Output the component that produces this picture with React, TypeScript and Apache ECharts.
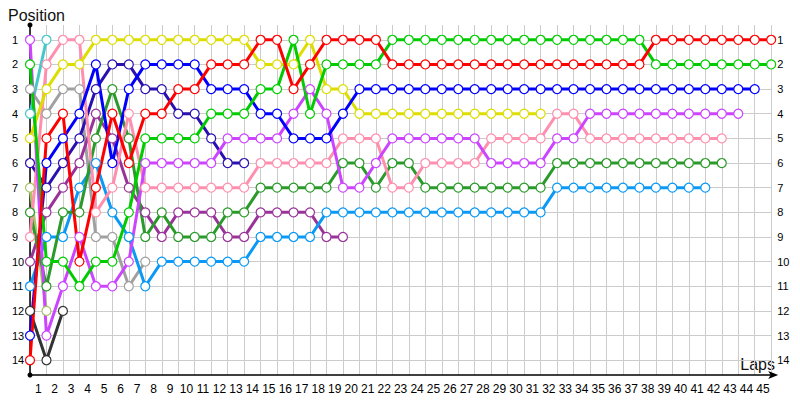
import React, { useEffect, useRef } from "react";
import * as echarts from "echarts";

// Lap labels on the x axis (lap 0 = starting grid column, unlabeled)
const lapLabels = [
  "1", "2", "3", "4", "5", "6", "7", "8", "9", "10",
  "11", "12", "13", "14", "15", "16", "17", "18", "19", "20",
  "21", "22", "23", "24", "25", "26", "27", "28", "29", "30",
  "31", "32", "33", "34", "35", "36", "37", "38", "39", "40",
  "41", "42", "43", "44", "45",
];
const positionTicks = [1, 2, 3, 4, 5, 6, 7, 8, 9, 10, 11, 12, 13, 14];

// Positions per lap, starting at lap 0 (grid)
const redPos = [14, 5, 4, 10, 7, 4, 6, 4, 4, 3, 3, 2, 2, 2, 1, 1, 3, 2, 1, 1, 1, 1,
  2, 2, 2, 2, 2, 2, 2, 2, 2, 2, 2, 2, 2, 2, 2, 2,
  1, 1, 1, 1, 1, 1, 1, 1];
const greenPos = [2, 10, 10, 11, 10, 10, 8, 5, 5, 5, 5, 4, 4, 4, 3, 3, 1, 4, 2, 2, 2, 2,
  1, 1, 1, 1, 1, 1, 1, 1, 1, 1, 1, 1, 1, 1, 1, 1,
  2, 2, 2, 2, 2, 2, 2, 2];
const bluePos = [13, 6, 5, 4, 2, 6, 3, 2, 2, 2, 2, 3, 3, 3, 4, 4, 5, 5, 5, 4,
  3, 3, 3, 3, 3, 3, 3, 3, 3, 3, 3, 3, 3, 3, 3, 3, 3, 3, 3, 3, 3, 3, 3, 3, 3];
const yellowPos = [5, 3, 2, 2, 1, 1, 1, 1, 1, 1, 1, 1, 1, 1, 2, 2, 2, 1, 3, 3,
  4, 4, 4, 4, 4, 4, 4, 4, 4, 4, 4, 4];
const violetPos = [1, 13, 11, 9, 11, 11, 10, 6, 6, 6, 6, 6, 5, 5, 5, 5, 4, 3, 4, 7, 7, 6,
  5, 5, 5, 5, 5, 5, 6, 6, 6, 6, 5, 5, 4, 4, 4, 4, 4, 4, 4, 4, 4, 4];
const pinkPos = [9, 2, 1, 1, 8, 7, 4, 7, 7, 7, 7, 7, 7, 7, 6, 6, 6, 6, 6, 5, 5, 5, 7, 7,
  6, 6, 6, 6, 5, 5, 5, 5, 4, 4, 5, 5, 5, 5, 5, 5, 5, 5, 5];
const darkGreenPos = [8, 11, 8, 8, 5, 3, 5, 9, 8, 9, 9, 9, 8, 8, 7, 7, 7, 7, 7, 6, 6, 7, 6, 6,
  7, 7, 7, 7, 7, 7, 7, 7, 6, 6, 6, 6, 6, 6, 6, 6, 6, 6, 6];
const lightBluePos = [11, 9, 9, 7, 6, 8, 9, 11, 10, 10, 10, 10, 10, 10, 9, 9, 9, 9,
  8, 8, 8, 8, 8, 8, 8, 8, 8, 8, 8, 8, 8, 8, 7, 7, 7, 7, 7, 7, 7, 7, 7, 7];
const purplePos = [10, 8, 7, 6, 4, 5, 7, 8, 9, 8, 8, 8, 9, 9, 8, 8, 8, 8, 9, 9];
const navyPos = [6, 7, 6, 5, 3, 2, 2, 3, 3, 4, 4, 5, 6, 6];
const grayPos = [3, 4, 3, 3, 9, 9, 11, 10];
const cyanPos = [4, 1];
const olivePos = [7, 12];
const blackPos = [12, 14, 12];

const drivers = [
  { name: "Black", color: "#333333", pos: blackPos },
  { name: "Olive", color: "#a9c467", pos: olivePos },
  { name: "Cyan", color: "#44c8c8", pos: cyanPos },
  { name: "Gray", color: "#a0a0a0", pos: grayPos },
  { name: "Navy", color: "#2a10b0", pos: navyPos },
  { name: "Purple", color: "#993399", pos: purplePos },
  { name: "LightBlue", color: "#0a99f5", pos: lightBluePos },
  { name: "DarkGreen", color: "#2a9a2a", pos: darkGreenPos },
  { name: "Pink", color: "#ff8fae", pos: pinkPos },
  { name: "Violet", color: "#cc44ff", pos: violetPos },
  { name: "Yellow", color: "#dddd00", pos: yellowPos },
  { name: "Blue", color: "#0000ff", pos: bluePos },
  { name: "Green", color: "#00cc00", pos: greenPos },
  { name: "Red", color: "#ff0000", pos: redPos },
];

const font = "'Liberation Sans', Arial, sans-serif";

export default function App() {
  const ref = useRef<HTMLDivElement>(null);
  useEffect(() => {
    const chart = echarts.init(ref.current as HTMLDivElement, null, { renderer: "svg" });
    const option: any = {
      animation: false,
      backgroundColor: "#ffffff",
      title: {
        text: "Position",
        left: 3,
        top: 2,
        textStyle: { fontSize: 16, fontWeight: "normal", color: "#111", fontFamily: font },
      },
      graphic: [
        {
          type: "text",
          right: 25,
          bottom: 28,
          style: { text: "Laps", fontSize: 16, fill: "#111", fontFamily: font },
        },
      ],
      grid: { left: 30, right: 28.8, top: 25, bottom: 25, containLabel: false },
      xAxis: [
        {
          type: "category",
          data: lapLabels,
          boundaryGap: true,
          position: "bottom",
          axisLine: {
            show: true,
            lineStyle: { color: "#000", width: 1.5 },
            symbol: ["none", "arrow"],
            symbolSize: [6, 10],
            symbolOffset: [0, 7],
          },
          axisTick: { show: false },
          splitLine: { show: false },
          axisLabel: { interval: 0, margin: 8, fontSize: 12, color: "#000", fontFamily: font },
        },
        {
          type: "value",
          position: "top",
          min: 0,
          max: 45,
          interval: 1,
          axisLine: { show: false },
          axisTick: { show: false },
          axisLabel: { show: false },
          splitLine: { show: true, lineStyle: { color: "#cccccc", width: 1 } },
        },
      ],
      yAxis: [
        {
          type: "value",
          inverse: true,
          min: 0.4,
          max: 14.6,
          position: "left",
          axisLine: {
            show: true,
            lineStyle: { color: "#000", width: 1.5 },
            symbol: ["circle", "circle"],
            symbolSize: [5, 5],
          },
          axisTick: { show: false, customValues: positionTicks },
          axisLabel: {
            customValues: positionTicks,
            align: "left",
            margin: 18,
            fontSize: 11,
            color: "#000",
            fontFamily: font,
          },
          splitLine: { show: true, lineStyle: { color: "#cccccc", width: 1 } },
        },
        {
          type: "value",
          inverse: true,
          min: 0.4,
          max: 14.6,
          position: "right",
          axisLine: { show: false },
          axisTick: { show: false, customValues: positionTicks },
          axisLabel: {
            customValues: positionTicks,
            align: "left",
            margin: 6,
            fontSize: 11,
            color: "#000",
            fontFamily: font,
          },
          splitLine: { show: false },
        },
      ],
      series: drivers.map((d) => ({
        type: "line",
        name: d.name,
        xAxisIndex: 1,
        yAxisIndex: 0,
        data: d.pos.map((p, i) => [i, p]),
        symbol: "circle",
        symbolSize: 9,
        showAllSymbol: true,
        lineStyle: { color: d.color, width: 3 },
        itemStyle: { color: "#ffffff", borderColor: d.color, borderWidth: 1.2 },
        emphasis: { disabled: true },
        silent: true,
      })),
    };
    chart.setOption(option);
    return () => chart.dispose();
  }, []);
  return (
    <div
      ref={ref}
      style={{ position: "fixed", left: 0, top: 0, width: 800, height: 400 }}
    />
  );
}
